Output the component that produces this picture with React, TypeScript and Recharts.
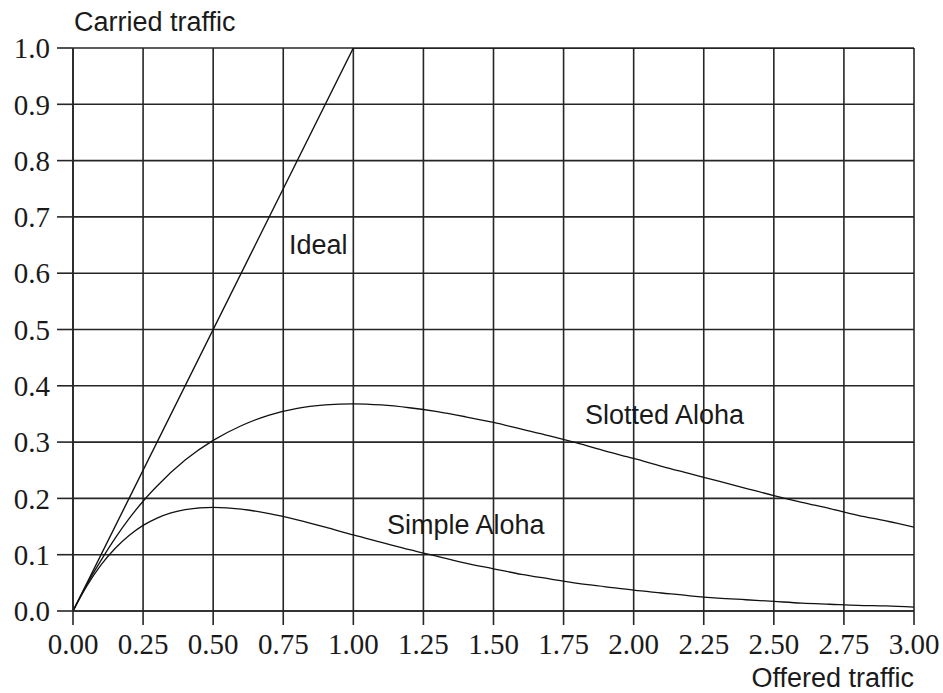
import { LineChart, Line, XAxis, YAxis, CartesianGrid } from "recharts";

const offered = [
  0, 0.05, 0.1, 0.15, 0.2, 0.25, 0.3, 0.4, 0.5, 0.6, 0.7, 0.8, 0.9, 1.0, 1.1,
  1.2, 1.3, 1.4, 1.5, 1.6, 1.7, 1.8, 1.9, 2.0, 2.1, 2.2, 2.3, 2.4, 2.5, 2.6,
  2.7, 2.8, 2.9, 3.0,
];
const slottedAloha = [
  0, 0.048, 0.09, 0.129, 0.164, 0.195, 0.222, 0.268, 0.303, 0.329, 0.348,
  0.36, 0.366, 0.368, 0.366, 0.361, 0.354, 0.345, 0.335, 0.323, 0.311, 0.298,
  0.284, 0.271, 0.257, 0.244, 0.231, 0.218, 0.205, 0.193, 0.182, 0.17, 0.16,
  0.149,
];
const simpleAloha = [
  0, 0.045, 0.082, 0.111, 0.134, 0.152, 0.165, 0.18, 0.184, 0.181, 0.173,
  0.162, 0.149, 0.135, 0.122, 0.109, 0.097, 0.085, 0.075, 0.065, 0.057, 0.049,
  0.043, 0.037, 0.032, 0.027, 0.023, 0.02, 0.017, 0.014, 0.012, 0.01, 0.009,
  0.007,
];
const idealX = [0, 1, 3];
const idealY = [0, 1, 1];

const xTicks = [0, 0.25, 0.5, 0.75, 1, 1.25, 1.5, 1.75, 2, 2.25, 2.5, 2.75, 3];
const yTicks = [0, 0.1, 0.2, 0.3, 0.4, 0.5, 0.6, 0.7, 0.8, 0.9, 1.0];

const alohaData = offered.map((x, i) => ({
  x,
  slotted: slottedAloha[i],
  simple: simpleAloha[i],
}));
const idealData = idealX.map((x, i) => ({ x, ideal: idealY[i] }));

const GRID = "#262626";
const SERIF = "'Liberation Serif', 'DejaVu Serif', serif";
const SANS = "'Liberation Sans', Arial, sans-serif";

const tickStyle = { fill: "#1a1a1a", fontSize: 29, fontFamily: SERIF };

export default function App() {
  return (
    <div style={{ position: "absolute", left: 0, top: 0, width: 943, height: 693, background: "#fff" }}>
      <LineChart
        width={943}
        height={693}
        margin={{ top: 48, right: 29, bottom: 0, left: 0 }}
      >
        <CartesianGrid stroke={GRID} strokeWidth={1.6} />
        <XAxis
          type="number"
          dataKey="x"
          domain={[0, 3]}
          ticks={xTicks}
          interval={0}
          height={82}
          tickSize={14}
          tickMargin={8}
          tickFormatter={(v: number) => v.toFixed(2)}
          tick={tickStyle}
          stroke={GRID}
          strokeWidth={1.6}
          allowDataOverflow
        />
        <YAxis
          type="number"
          domain={[0, 1]}
          ticks={yTicks}
          interval={0}
          width={73}
          tickSize={16}
          tickMargin={7}
          tickFormatter={(v: number) => v.toFixed(1)}
          tick={tickStyle}
          stroke={GRID}
          strokeWidth={1.6}
          allowDataOverflow
        />
        <Line
          data={idealData}
          dataKey="ideal"
          type="linear"
          stroke="#111"
          strokeWidth={1.4}
          dot={false}
          isAnimationActive={false}
        />
        <Line
          data={alohaData}
          dataKey="slotted"
          type="monotone"
          stroke="#111"
          strokeWidth={1.3}
          dot={false}
          isAnimationActive={false}
        />
        <Line
          data={alohaData}
          dataKey="simple"
          type="monotone"
          stroke="#111"
          strokeWidth={1.3}
          dot={false}
          isAnimationActive={false}
        />
      </LineChart>
      <svg
        width={943}
        height={693}
        style={{ position: "absolute", left: 0, top: 0, pointerEvents: "none" }}
      >
        <g fontFamily={SANS} fontSize={27} fill="#1a1a1a">
          <text x={74} y={31}>Carried traffic</text>
          <text x={914} y={687} textAnchor="end">Offered traffic</text>
          <text x={289} y={254}>Ideal</text>
          <text x={585} y={424}>Slotted Aloha</text>
          <text x={387} y={534}>Simple Aloha</text>
        </g>
      </svg>
    </div>
  );
}
